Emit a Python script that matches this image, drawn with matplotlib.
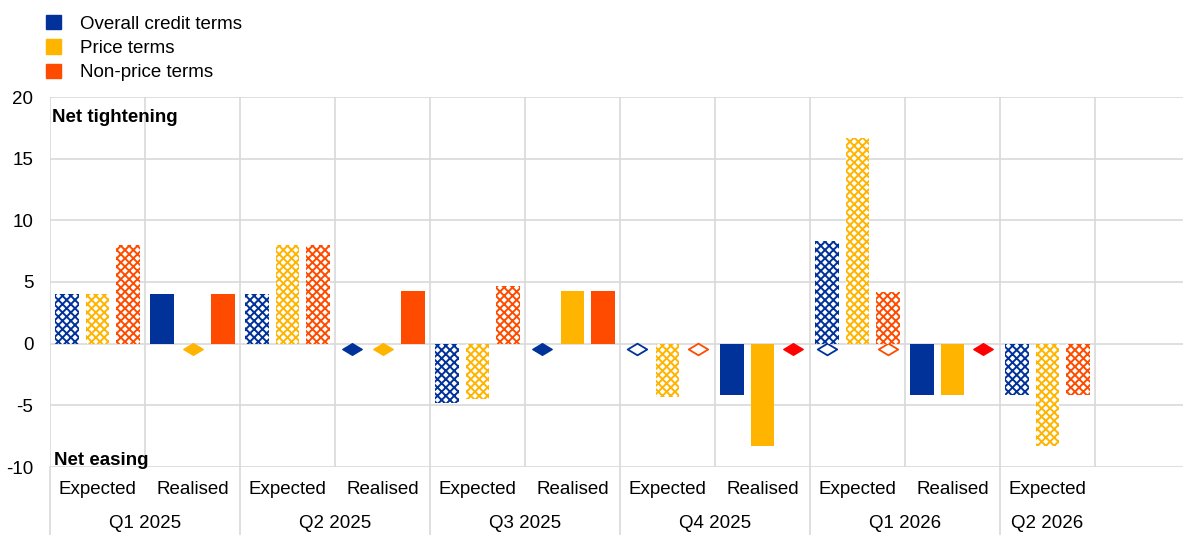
import numpy as np
import matplotlib
matplotlib.use("Agg")
import matplotlib.pyplot as plt
from matplotlib.patches import Patch
from matplotlib.path import Path

plt.rcParams['font.family'] = ['Liberation Sans', 'DejaVu Sans']
plt.rcParams['hatch.linewidth'] = 1.4
plt.rcParams['axes.unicode_minus'] = False

# data
quarters = ["Q1 2025", "Q2 2025", "Q3 2025", "Q4 2025", "Q1 2026", "Q2 2026"]
kinds = ["Expected", "Realised", "Expected", "Realised", "Expected", "Realised",
         "Expected", "Realised", "Expected", "Realised", "Expected"]
overall = [4.0, 4.0, 4.0, 0.0, -4.8, 0.0, 0.0, -4.2, 8.3, -4.2, -4.2]
price = [4.0, 0.0, 8.0, 0.0, -4.5, 4.3, -4.3, -8.3, 16.7, -4.2, -8.3]
nonprice = [8.0, 4.0, 8.0, 4.3, 4.7, 4.3, 0.0, 0.0, 4.2, 0.0, -4.2]
# categories where a "zero" diamond is drawn
overall_zero = [3, 5, 6, 8]
price_zero = [1, 3]
nonprice_zero = [6, 7, 8, 9]
series_names = ["Overall credit terms", "Price terms", "Non-price terms"]

blue = "#003299"
yellow = "#FFB400"
orange = "#FF4B00"
red = "#FF0000"
grid_c = "#D9D9D9"

diamond = Path([(-1, 0), (0, 0.6), (1, 0), (0, -0.6), (-1, 0)],
               [Path.MOVETO, Path.LINETO, Path.LINETO, Path.LINETO, Path.CLOSEPOLY])

fig = plt.figure(figsize=(11.83, 5.35), dpi=100)
ax = fig.add_axes([50 / 1183, 68 / 535, 1133 / 1183, 370 / 535])

x = np.arange(len(kinds))
w = 0.25
off = 0.32
expected = np.array([k == "Expected" for k in kinds])

# zero markers (drawn under the bars)
for vals_idx, col, dx in [(overall_zero, blue, -off), (price_zero, yellow, 0),
                          (nonprice_zero, orange, off)]:
    for i in vals_idx:
        mcol = col
        if col == orange and not expected[i]:
            mcol = red
        if expected[i]:
            ax.plot(x[i] + dx, -0.45, marker=diamond, ms=14, mfc="white",
                    mec=mcol, mew=1.3, zorder=2)
        else:
            ax.plot(x[i] + dx, -0.45, marker=diamond, ms=14, mfc=mcol,
                    mec=mcol, zorder=2)

for vals, col, dx in [(overall, blue, -off), (price, yellow, 0), (nonprice, orange, off)]:
    vals = np.array(vals)
    ax.bar(x[expected] + dx, vals[expected], width=w, facecolor="white",
           edgecolor=col, hatch="xxxx", linewidth=0, zorder=3)
    ax.bar(x[~expected] + dx, vals[~expected], width=w, color=col,
           linewidth=0, zorder=3)

ax.set_yticks(np.arange(-10, 21, 5))
ax.set_xticks(np.arange(-0.5, 11, 1))
ax.set_xticklabels([])
ax.set_xlim(-0.5, -0.5 + 1133 / 95)
ax.set_ylim(-10, 20)
ax.tick_params(axis="both", length=0, labelsize=13.5, pad=12)
ax.grid(True, color=grid_c, linewidth=1.2)
ax.set_axisbelow(True)
for s in ax.spines.values():
    s.set_visible(False)

# category labels under the axis
trans = ax.get_xaxis_transform()
for i, k in enumerate(kinds):
    ax.text(x[i], -0.062, k, transform=trans, ha="center", va="center", fontsize=13.5)
for q, name in enumerate(quarters):
    ax.text(2 * q + 0.5 if q < 5 else 10, -0.152, name, transform=trans,
            ha="center", va="center", fontsize=13.5)
for b in np.arange(-0.5, 11, 2):
    ax.plot([b, b], [0, -0.19], transform=trans, color=grid_c, lw=1.2, clip_on=False)

ax.text(-0.48, 18.3, "Net tightening", fontsize=13.5, fontweight="bold", va="center")
ax.text(-0.46, -9.45, "Net easing", fontsize=13.5, fontweight="bold", va="center")

handles = [Patch(color=c) for c in (blue, yellow, orange)]
fig.legend(handles, series_names, loc="upper left", bbox_to_anchor=(31 / 1183, 1.0),
           frameon=False, fontsize=13.5, handlelength=0.8, handleheight=0.8,
           handletextpad=1.0, labelspacing=0.35, borderpad=0.3)

fig.savefig("out.png", dpi=100)
